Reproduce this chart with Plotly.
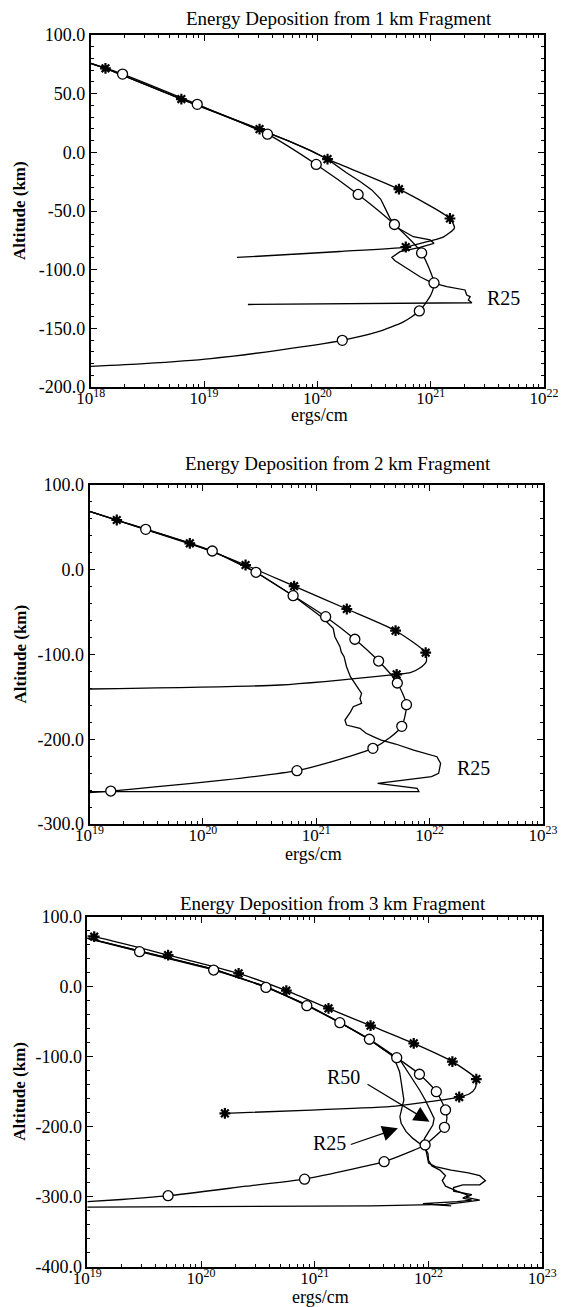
import numpy as np
import plotly.graph_objects as go

# ---------------- Panel 1 : 1 km fragment ----------------
p1_star_line_x = [1.0e18, 1.35e18, 6.31e18, 3.09e19, 5.62e19, 8.91e19, 1.23e20, 5.25e20, 1.48e21,
                  1.62e21, 1.29e21, 9.77e20, 6.03e20, 1.58e20, 4.68e19, 1.95e19]
p1_star_line_y = [75.8, 71.6, 45.4, 19.8, 9.5, 1.0, -5.8, -31.4, -56.4,
                  -64.5, -72.2, -75.6, -80.7, -84.5, -87.5, -89.6]
p1_star_x = [1.35e18, 6.31e18, 3.09e19, 1.23e20, 5.25e20, 1.48e21, 6.03e20]
p1_star_y = [71.6, 45.4, 19.8, -5.8, -31.4, -56.4, -80.7]

p1_circ_line_x = [1.0e18, 1.91e18, 8.71e18, 3.63e19, 9.77e19, 2.29e20, 4.79e20, 8.32e20, 1.07e21,
                  1.0e21, 7.94e20, 5.75e20, 3.39e20, 1.66e20, 4.47e19, 1.15e19, 2.95e18, 1.0e18]
p1_circ_line_y = [75.8, 66.7, 40.9, 15.5, -10.3, -35.9, -61.5, -85.7, -111.3,
                  -121.8, -135.2, -144.5, -153.1, -160.2, -168.7, -175.8, -180.1, -182.4]
p1_circ_x = [1.91e18, 8.71e18, 3.63e19, 9.77e19, 2.29e20, 4.79e20, 8.32e20, 1.07e21, 7.94e20, 1.66e20]
p1_circ_y = [66.7, 40.9, 15.5, -10.3, -35.9, -61.5, -85.7, -111.3, -135.2, -160.2]

p1_r25_x = [1.0e18, 1.35e18, 6.31e18, 3.09e19, 5.62e19, 8.91e19, 1.23e20, 1.78e20, 2.40e20, 3.02e20,
            3.63e20, 3.98e20, 4.37e20, 5.01e20, 7.03e20, 9.89e20, 1.07e21, 8.05e20, 6.58e20, 5.37e20,
            4.54e20, 4.85e20, 6.15e20, 8.05e20, 1.02e21, 1.39e21, 2.01e21, 2.08e21, 2.23e21, 2.15e21,
            2.31e21, 3.16e20, 2.44e19]
p1_r25_y = [75.8, 71.6, 45.4, 19.8, 9.5, 1.0, -5.8, -17.0, -25.0, -32.0,
            -40.0, -48.0, -56.0, -63.9, -71.9, -74.7, -77.5, -80.9, -82.6, -84.7,
            -89.5, -92.4, -98.8, -106.0, -111.1, -114.5, -117.3, -121.6, -123.0, -125.9,
            -128.2, -129.0, -129.7]

# ---------------- Panel 2 : 2 km fragment ----------------
p2_star_line_x = [1.0e19, 1.74e19, 7.67e19, 2.38e20, 6.38e20, 1.86e21, 5.01e21, 9.23e21,
                  9.33e21, 8.13e21, 6.76e21, 5.12e21, 4.79e20, 1.0e19]
p2_star_line_y = [69.0, 58.7, 31.2, 5.6, -19.4, -46.3, -71.9, -97.9,
                  -108.5, -116.3, -121.5, -123.4, -136.0, -140.7]
p2_star_x = [1.74e19, 7.67e19, 2.38e20, 6.38e20, 1.86e21, 5.01e21, 9.23e21, 5.12e21]
p2_star_y = [58.7, 31.2, 5.6, -19.4, -46.3, -71.9, -97.9, -123.4]

p2_circ_line_x = [1.0e19, 3.13e19, 1.21e20, 2.94e20, 6.25e20, 1.21e21, 2.19e21, 3.55e21, 5.19e21,
                  6.25e21, 5.68e21, 4.47e21, 3.16e21, 1.58e21, 6.76e20, 1.58e20, 3.98e19, 1.54e19, 1.0e19]
p2_circ_line_y = [69.0, 47.7, 22.1, -3.0, -30.6, -55.4, -82.0, -107.7, -133.6,
                  -159.2, -184.8, -198.0, -210.7, -224.0, -237.1, -248.0, -256.0, -261.1, -263.0]
p2_circ_x = [3.13e19, 1.21e20, 2.94e20, 6.25e20, 1.21e21, 2.19e21, 3.55e21, 5.19e21,
             6.25e21, 5.68e21, 3.16e21, 6.76e20, 1.54e19]
p2_circ_y = [47.7, 22.1, -3.0, -30.6, -55.4, -82.0, -107.7, -133.6,
             -159.2, -184.8, -210.7, -237.1, -261.1]

p2_r25_x = [1.0e19, 3.13e19, 1.21e20, 2.94e20, 6.25e20, 8.79e20, 1.15e21, 1.41e21, 1.46e21, 1.62e21,
            1.66e21, 1.76e21, 1.85e21, 2.0e21, 2.14e21, 2.27e21, 2.51e21, 2.43e21, 2.51e21, 2.12e21,
            2.0e21, 1.79e21, 1.85e21, 2.43e21, 2.75e21, 3.18e21, 3.74e21, 5.01e21, 7.23e21, 1.16e22,
            1.25e22, 1.20e22, 1.04e22, 3.48e21, 7.76e21, 8.05e21, 1.0e19]
p2_r25_y = [69.0, 47.7, 22.1, -3.0, -30.6, -45.5, -57.3, -69.1, -79.0, -90.8,
            -97.0, -102.6, -114.4, -126.2, -132.0, -138.0, -145.8, -152.0, -157.6, -161.6,
            -168.0, -177.3, -183.2, -187.1, -193.0, -197.0, -200.9, -205.6, -212.7, -220.6,
            -228.4, -240.2, -244.2, -252.0, -257.9, -261.9, -261.9]

# ---------------- Panel 3 : 3 km fragment ----------------
p3_star_line_x = [1.0e19, 1.15e19, 5.13e19, 2.14e20, 5.62e20, 1.32e21, 3.09e21, 7.41e21, 1.62e22,
                  2.63e22, 2.57e22, 2.29e22, 1.86e22, 5.13e21, 9.33e20, 1.62e20]
p3_star_line_y = [72.4, 71.4, 45.2, 19.0, -5.7, -31.0, -55.7, -81.0, -107.1,
                  -132.0, -145.0, -153.0, -157.6, -170.5, -176.2, -181.0]
p3_star_x = [1.15e19, 5.13e19, 2.14e20, 5.62e20, 1.32e21, 3.09e21, 7.41e21, 1.62e22, 2.63e22,
             1.86e22, 1.62e20]
p3_star_y = [71.4, 45.2, 19.0, -5.7, -31.0, -55.7, -81.0, -107.1, -132.0, -157.6, -181.0]

p3_circ_line_x = [1.0e19, 2.88e19, 1.29e20, 3.72e20, 8.51e20, 1.66e21, 3.02e21, 5.25e21, 8.32e21,
                  1.17e22, 1.41e22, 1.45e22, 1.38e22, 1.12e22, 9.33e21, 7.08e21, 4.07e21, 2.24e21,
                  8.13e20, 2.51e20, 5.13e19, 2.0e19, 1.0e19]
p3_circ_line_y = [69.0, 50.0, 23.8, -1.0, -27.1, -51.4, -75.1, -101.4, -125.1,
                  -150.0, -176.1, -188.0, -200.9, -215.0, -226.1, -235.0, -250.0, -260.0,
                  -274.9, -285.0, -298.6, -304.0, -307.1]
p3_circ_x = [2.88e19, 1.29e20, 3.72e20, 8.51e20, 1.66e21, 3.02e21, 5.25e21, 8.32e21,
             1.17e22, 1.41e22, 1.38e22, 9.33e21, 4.07e21, 8.13e20, 5.13e19]
p3_circ_y = [50.0, 23.8, -1.0, -27.1, -51.4, -75.1, -101.4, -125.1,
             -150.0, -176.1, -200.9, -226.1, -250.0, -274.9, -298.6]

p3_r25_x = [1.0e19, 2.88e19, 1.29e20, 3.72e20, 8.51e20, 1.66e21, 3.02e21, 4.07e21, 4.69e21, 5.19e21,
            5.56e21, 5.74e21, 5.94e21, 6.07e21, 5.82e21, 5.60e21, 5.74e21, 6.35e21, 7.28e21, 8.34e21,
            9.10e21, 9.55e21, 9.75e21, 1.0e22, 1.15e22, 1.58e22, 2.24e22, 2.82e22, 3.16e22, 2.82e22,
            2.0e22, 1.66e22, 1.66e22, 2.0e22, 2.40e22, 2.14e22, 2.82e22, 2.0e22, 1.41e22, 3.16e21,
            3.16e20, 1.0e19]
p3_r25_y = [69.5, 51.0, 25.0, 0.0, -26.0, -51.0, -75.5, -90.5, -97.6, -109.5,
            -121.4, -135.7, -150.0, -161.9, -173.8, -185.7, -195.2, -207.1, -216.7, -223.8,
            -228.6, -235.7, -245.2, -252.0, -257.0, -262.0, -266.0, -270.0, -277.0, -283.0,
            -283.0, -287.0, -292.0, -295.0, -297.0, -301.0, -305.0, -308.0, -311.0, -313.0,
            -314.0, -315.0]

p3_r50_x = [1.0e19, 2.88e19, 1.29e20, 3.72e20, 8.51e20, 1.66e21, 3.02e21, 4.07e21, 5.01e21, 5.74e21,
            7.05e21, 8.34e21, 9.35e21, 1.04e22, 1.12e22, 1.09e22, 1.01e22, 9.23e21, 8.91e21, 9.35e21,
            9.89e21, 1.0e22, 1.07e22, 1.26e22, 1.41e22, 1.32e22, 1.41e22, 1.78e22, 2.24e22, 2.0e22,
            2.40e22, 1.78e22, 1.26e22, 8.91e21, 1.26e22, 1.58e22]
p3_r50_y = [69.5, 51.0, 25.0, 0.0, -26.0, -51.0, -75.5, -90.5, -99.0, -107.1,
            -128.6, -147.6, -161.9, -176.2, -188.1, -197.6, -207.1, -216.7, -224.7, -231.0,
            -238.1, -248.0, -256.0, -262.0, -270.0, -277.0, -285.0, -292.0, -298.0, -302.0,
            -305.0, -307.0, -309.0, -310.0, -312.0, -313.0]

# ---------------- labels ----------------
titles = ["Energy Deposition from 1 km Fragment",
          "Energy Deposition from 2 km Fragment",
          "Energy Deposition from 3 km Fragment"]
x_title = "ergs/cm"
y_title = "Altitude (km)"
x_decades = [[18, 19, 20, 21, 22], [19, 20, 21, 22, 23], [19, 20, 21, 22, 23]]
y_ticks = [[100, 50, 0, -50, -100, -150, -200],
           [100, 0, -100, -200, -300],
           [100, 0, -100, -200, -300, -400]]

# label anchors (data units: ergs/cm, km)
p1_r25_label = (4.37e21, -124.2)
p2_r25_label = (2.45e22, -234.0)
p3_r50_label = (1.78e21, -128.6)
p3_r25_label = (1.35e21, -223.7)
p3_r50_arrow = ((2.82e21, -138.0), (1.02e22, -192.9))   # tail, tip
p3_r25_arrow = ((2.01e21, -226.1), (5.38e21, -202.3))

# ---------------- figure ----------------
W, H = 564, 1307
SERIF = "Liberation Serif"
fig = go.Figure()

# pixel frames of the three plots: (left, right, top, bottom)
frames = [(90.7, 544.0, 35.0, 387.0), (89.5, 543.0, 485.0, 824.0), (87.3, 542.3, 916.7, 1266.7)]
y_minor = [10, 20, 20]

panels = [
    dict(star_line=(p1_star_line_x, p1_star_line_y), star=(p1_star_x, p1_star_y),
         circ_line=(p1_circ_line_x, p1_circ_line_y), circ=(p1_circ_x, p1_circ_y),
         plain=[(p1_r25_x, p1_r25_y)]),
    dict(star_line=(p2_star_line_x, p2_star_line_y), star=(p2_star_x, p2_star_y),
         circ_line=(p2_circ_line_x, p2_circ_line_y), circ=(p2_circ_x, p2_circ_y),
         plain=[(p2_r25_x, p2_r25_y)]),
    dict(star_line=(p3_star_line_x, p3_star_line_y), star=(p3_star_x, p3_star_y),
         circ_line=(p3_circ_line_x, p3_circ_line_y), circ=(p3_circ_x, p3_circ_y),
         plain=[(p3_r25_x, p3_r25_y), (p3_r50_x, p3_r50_y)]),
]

LW = 1.3
for i, p in enumerate(panels):
    xa = "x" if i == 0 else f"x{i+1}"
    ya = "y" if i == 0 else f"y{i+1}"
    for (px, py) in p["plain"]:
        fig.add_trace(go.Scatter(x=px, y=py, mode="lines", xaxis=xa, yaxis=ya,
                                 line=dict(color="black", width=LW), hoverinfo="skip"))
    fig.add_trace(go.Scatter(x=p["star_line"][0], y=p["star_line"][1], mode="lines", xaxis=xa, yaxis=ya,
                             line=dict(color="black", width=LW, shape="spline", smoothing=0.6),
                             hoverinfo="skip"))
    fig.add_trace(go.Scatter(x=p["circ_line"][0], y=p["circ_line"][1], mode="lines", xaxis=xa, yaxis=ya,
                             line=dict(color="black", width=LW, shape="spline", smoothing=0.6),
                             hoverinfo="skip"))
    fig.add_trace(go.Scatter(x=p["star"][0], y=p["star"][1], mode="markers", xaxis=xa, yaxis=ya,
                             marker=dict(symbol="asterisk-open", size=9, color="black",
                                         line=dict(color="black", width=2.2)),
                             hoverinfo="skip"))
    fig.add_trace(go.Scatter(x=p["circ"][0], y=p["circ"][1], mode="markers", xaxis=xa, yaxis=ya,
                             marker=dict(symbol="circle", size=10, color="white",
                                         line=dict(color="black", width=1.3)),
                             hoverinfo="skip"))

layout = {}
for i in range(3):
    l, r, t, b = frames[i]
    dec = x_decades[i]
    minor_vals = [m * 10.0 ** e for e in dec[:-1] for m in range(2, 10)]
    xkey = "xaxis" if i == 0 else f"xaxis{i+1}"
    ykey = "yaxis" if i == 0 else f"yaxis{i+1}"
    yanchor = "y" if i == 0 else f"y{i+1}"
    xanchor = "x" if i == 0 else f"x{i+1}"
    layout[xkey] = dict(
        type="log", range=[dec[0], dec[-1]], domain=[l / W, r / W], anchor=yanchor,
        showline=True, linecolor="black", linewidth=1.6, mirror="ticks",
        ticks="inside", ticklen=6, tickwidth=1.2, tickcolor="black",
        tickvals=[10.0 ** e for e in dec], ticktext=[f"10<sup>{e}</sup>" for e in dec],
        tickfont=dict(family=SERIF, size=17, color="black"), ticklabelstandoff=-5,
        minor=dict(ticks="inside", ticklen=3, tickwidth=1, tickcolor="black", tickvals=minor_vals,
                   showgrid=False),
        showgrid=False, zeroline=False, automargin=False, fixedrange=True,
    )
    yt = y_ticks[i]
    layout[ykey] = dict(
        range=[yt[-1], yt[0]], domain=[1 - b / H, 1 - t / H], anchor=xanchor,
        showline=True, linecolor="black", linewidth=1.6, mirror="ticks",
        ticks="inside", ticklen=6, tickwidth=1.2, tickcolor="black",
        tickvals=yt, ticktext=[f"{v:.1f}" for v in yt],
        tickfont=dict(family=SERIF, size=18, color="black"),
        minor=dict(ticks="inside", ticklen=3, tickwidth=1, tickcolor="black", dtick=y_minor[i],
                   showgrid=False),
        showgrid=False, zeroline=False, automargin=False, fixedrange=True,
    )

ann = []
title_pos = [(339, 18.3), (338, 463.3), (333, 903.3)]
xlab_pos = [(319, 415), (313, 854), (320, 1297)]
for i in range(3):
    l, r, t, b = frames[i]
    ann.append(dict(text=titles[i], x=title_pos[i][0] / W, y=1 - title_pos[i][1] / H, xref="paper",
                    yref="paper", showarrow=False, xanchor="center", yanchor="middle",
                    font=dict(family=SERIF, size=19, color="black")))
    ann.append(dict(text=x_title, x=xlab_pos[i][0] / W, y=1 - xlab_pos[i][1] / H, xref="paper",
                    yref="paper", showarrow=False, xanchor="center", yanchor="middle",
                    font=dict(family=SERIF, size=18, color="black")))
    ann.append(dict(text=f"<b>{y_title}</b>", x=20 / W, y=1 - (t + b) / 2 / H, xref="paper",
                    yref="paper", showarrow=False, xanchor="center", yanchor="middle",
                    textangle=-90, font=dict(family=SERIF, size=17, color="black")))

def lab(text, pos, xr, yr):
    return dict(text=text, x=np.log10(pos[0]), y=pos[1], xref=xr, yref=yr, showarrow=False,
                xanchor="center", yanchor="middle", font=dict(family=SERIF, size=20, color="black"))

ann.append(lab("R25", p1_r25_label, "x", "y"))
ann.append(lab("R25", p2_r25_label, "x2", "y2"))
ann.append(lab("R50", p3_r50_label, "x3", "y3"))
ann.append(lab("R25", p3_r25_label, "x3", "y3"))
for tail, tip in (p3_r50_arrow, p3_r25_arrow):
    ann.append(dict(text="", x=np.log10(tip[0]), y=tip[1], ax=np.log10(tail[0]), ay=tail[1],
                    xref="x3", yref="y3", axref="x3", ayref="y3", showarrow=True,
                    arrowhead=2, arrowsize=2.6, arrowwidth=1.2, arrowcolor="black", standoff=0))

fig.update_layout(width=W, height=H, margin=dict(l=0, r=0, t=0, b=0), template="none",
                  paper_bgcolor="white", plot_bgcolor="white", showlegend=False,
                  annotations=ann, font=dict(family=SERIF, color="black"), **layout)

fig.write_html("out.html")
